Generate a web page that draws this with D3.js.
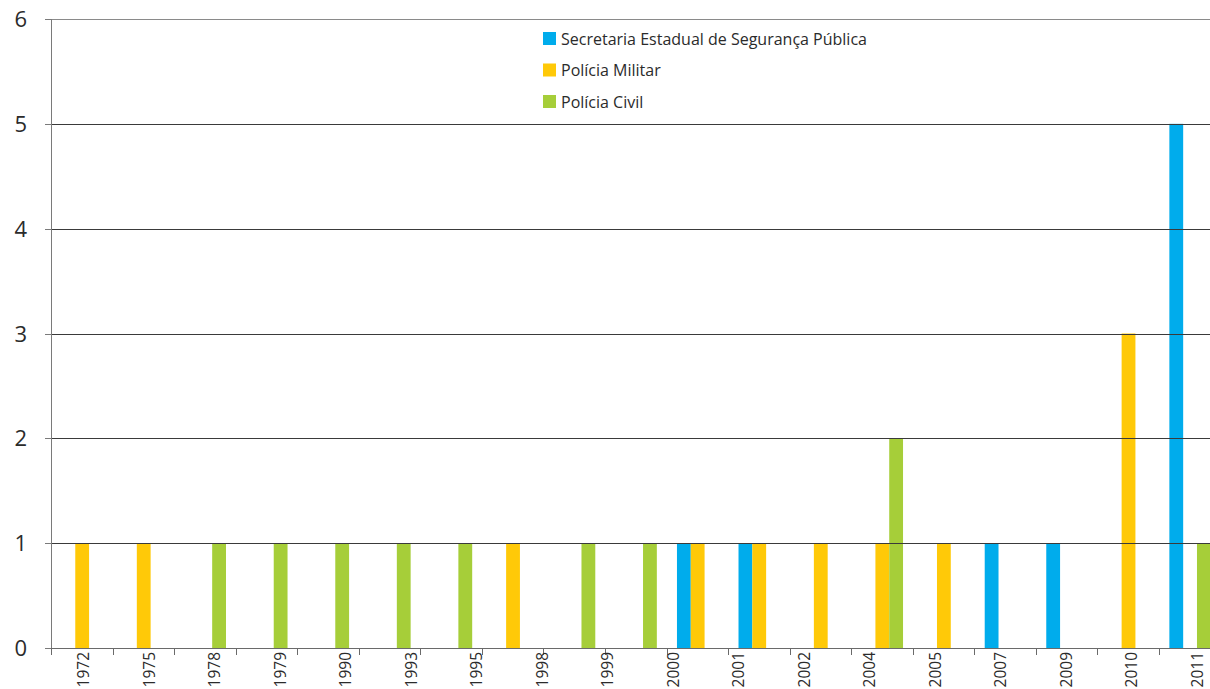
<!DOCTYPE html>
<html lang="pt">
<head>
<meta charset="utf-8">
<script src="https://cdn.jsdelivr.net/npm/d3@7"></script>
<style>
  html, body { margin: 0; padding: 0; background: #fff; }
  svg { display: block; }
  text { fill: #2b2b2b; }
</style>
</head>
<body>
<svg id="chart" width="1210" height="689"></svg>
<script>
// Axis labels printed under the bars
const years = ["1972","1975","1978","1979","1990","1993","1995","1998","1999",
               "2000","2001","2002","2004","2005","2007","2009","2010","2011"];

// Bar groups, one value per slot along the horizontal axis
const secretaria = [0,0,0,0,0,0,0,0,0,0,1,1,0,0,0,1,1,0,5];
const militar    = [1,1,0,0,0,0,0,1,0,0,1,1,1,1,1,0,0,3,0];
const civil      = [0,0,1,1,1,1,1,0,1,1,0,0,0,2,0,0,0,0,1];

const seriesNames  = ["Secretaria Estadual de Segurança Pública", "Polícia Militar", "Polícia Civil"];
const seriesColors = ["#00acec", "#ffc908", "#a6ce39"];
const yTicks = [0, 1, 2, 3, 4, 5, 6];

const seriesValues = [secretaria, militar, civil];

const svg = d3.select("#chart");
const plotLeft = 51, plotBottom = 648, plotTop = 19;
const slotStep = 61.55, labelStep = 65.5;

const slots = d3.range(secretaria.length);
const x = d3.scaleBand()
  .domain(slots)
  .range([plotLeft, plotLeft + slotStep * slots.length])
  .paddingInner(0).paddingOuter(0);

const xSeries = d3.scaleBand()
  .domain(seriesNames)
  .range([x.bandwidth() * 0.17, x.bandwidth() * 0.843]);

const xLabel = d3.scaleBand()
  .domain(years)
  .range([plotLeft, plotLeft + labelStep * years.length]);

const y = d3.scaleLinear().domain([0, 6]).range([plotBottom, plotTop]);

// bars
const rows = slots.flatMap(i => seriesNames.map((s, k) => ({ slot: i, series: s, k, value: seriesValues[k][i] })))
  .filter(d => d.value > 0);

svg.append("g").selectAll("rect")
  .data(rows)
  .join("rect")
  .attr("x", d => x(d.slot) + xSeries(d.series))
  .attr("width", xSeries.bandwidth())
  .attr("y", d => y(d.value))
  .attr("height", d => y(0) - y(d.value))
  .attr("fill", d => seriesColors[d.k]);

// horizontal grid lines
svg.append("g").selectAll("line")
  .data(yTicks.filter(v => v > 0))
  .join("line")
  .attr("x1", plotLeft).attr("x2", 1220)
  .attr("y1", d => Math.round(y(d)) + 0.5)
  .attr("y2", d => Math.round(y(d)) + 0.5)
  .attr("stroke", d => d === 6 ? "#8a8a8a" : "#3a3a3a")
  .attr("stroke-width", 1);

// vertical axis
const yAxis = svg.append("g");
yAxis.append("line")
  .attr("x1", plotLeft + 0.5).attr("x2", plotLeft + 0.5)
  .attr("y1", plotTop).attr("y2", plotBottom)
  .attr("stroke", "#7a7a7a");
yAxis.selectAll("line.tick")
  .data(yTicks)
  .join("line")
  .attr("class", "tick")
  .attr("x1", plotLeft - 6).attr("x2", plotLeft)
  .attr("y1", d => Math.round(y(d)) + 0.5)
  .attr("y2", d => Math.round(y(d)) + 0.5)
  .attr("stroke", "#7a7a7a");
yAxis.selectAll("text")
  .data(yTicks)
  .join("text")
  .attr("x", 27)
  .attr("y", d => y(d) + 8)
  .attr("text-anchor", "end")
  .attr("font-family", "'Open Sans', sans-serif")
  .attr("font-size", 22)
  .text(d => d);

// horizontal axis with slot boundary ticks
const xAxis = svg.append("g");
xAxis.append("line")
  .attr("x1", plotLeft).attr("x2", 1220)
  .attr("y1", plotBottom + 0.5).attr("y2", plotBottom + 0.5)
  .attr("stroke", "#6a6a6a");
xAxis.selectAll("line.tick")
  .data(slots.concat([slots.length]))
  .join("line")
  .attr("class", "tick")
  .attr("x1", d => Math.round(x.range()[0] + d * x.step()) + 0.5)
  .attr("x2", d => Math.round(x.range()[0] + d * x.step()) + 0.5)
  .attr("y1", plotBottom).attr("y2", plotBottom + 7)
  .attr("stroke", "#6a6a6a");
xAxis.selectAll("text")
  .data(years)
  .join("text")
  .attr("transform", d => `translate(${xLabel(d) + xLabel.bandwidth() / 2 + 5.5},${plotBottom + 4}) rotate(-90)`)
  .attr("text-anchor", "end")
  .attr("font-family", "'Open Sans', sans-serif")
  .attr("font-size", 15.5)
  .text(d => d);

// legend
const legend = svg.append("g").attr("transform", "translate(543,32)");
const item = legend.selectAll("g")
  .data(seriesNames)
  .join("g")
  .attr("transform", (d, i) => `translate(0,${i * 31.5})`);
item.append("rect")
  .attr("width", 13).attr("height", 13)
  .attr("fill", (d, i) => seriesColors[i]);
item.append("text")
  .attr("x", 18).attr("y", 12.5)
  .attr("font-family", "'Open Sans', sans-serif")
  .attr("font-size", 16)
  .text(d => d);
</script>
</body>
</html>
